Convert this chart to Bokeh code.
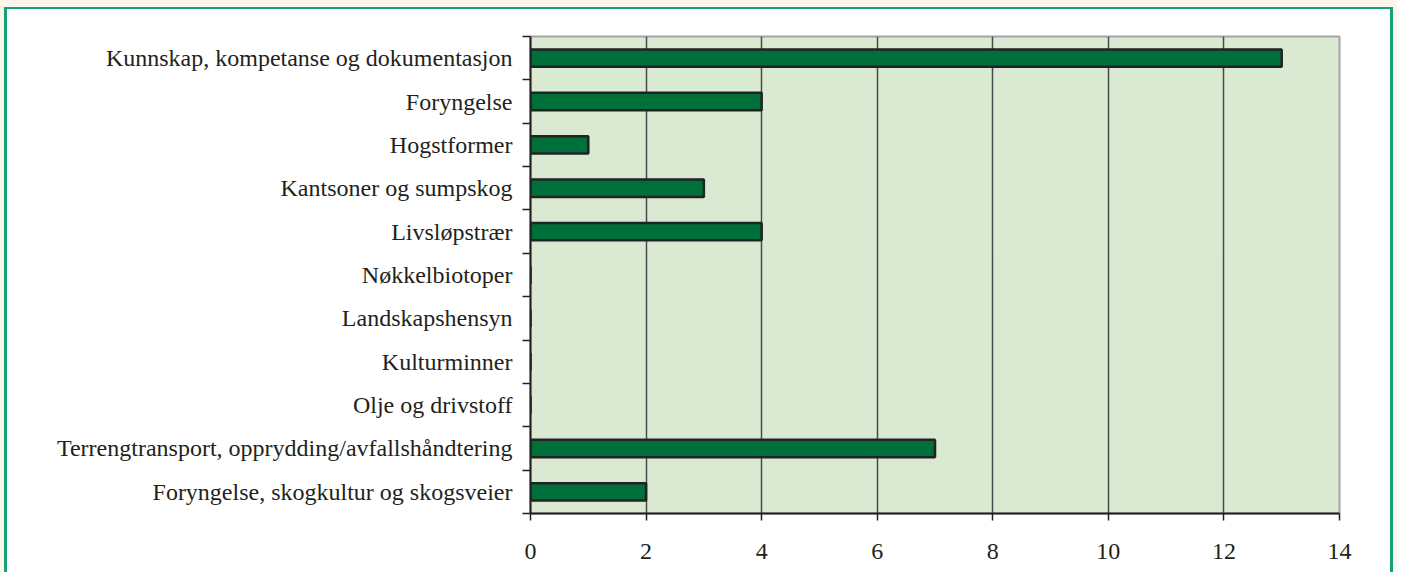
from bokeh.plotting import figure
from bokeh.models import Range1d, FixedTicker
from bokeh.embed import file_html
from bokeh.resources import INLINE

categories = [
    "Kunnskap, kompetanse og dokumentasjon",
    "Foryngelse",
    "Hogstformer",
    "Kantsoner og sumpskog",
    "Livsløpstrær",
    "Nøkkelbiotoper",
    "Landskapshensyn",
    "Kulturminner",
    "Olje og drivstoff",
    "Terrengtransport, opprydding/avfallshåndtering",
    "Foryngelse, skogkultur og skogsveier",
]
values = [13, 4, 1, 3, 4, 0, 0, 0, 0, 7, 2]
x_ticks = [0, 2, 4, 6, 8, 10, 12, 14]

n = len(categories)
centers = [i + 0.5 for i in range(n)]
bounds = list(range(n + 1))

FONT = "Liberation Serif"
TXT = "#231f20"

p = figure(
    width=1397, height=572,
    output_backend="svg", toolbar_location=None,
    x_range=Range1d(0, 14), y_range=Range1d(n, 0),
    min_border_left=523, min_border_right=65,
    min_border_top=27, min_border_bottom=68,
    background_fill_color="#d9e9d2", border_fill_color=None,
    outline_line_color="#a3a3a3", outline_line_width=2,
)
p.styles = {
    "border-style": "solid",
    "border-color": "#fcf5e9",
    "border-width": "7px 4px 0px 4px",
    "padding": "2px 3px 0px 3px",
    "background": "linear-gradient(#ffffff, #ffffff) content-box, #15a07e",
}

p.hbar(y=centers, right=values, left=0, height=0.4,
       fill_color="#00703a", line_color="#222222", line_width=2.5)

# x axis
p.xaxis.ticker = FixedTicker(ticks=x_ticks)
p.xaxis.axis_line_color = "#222222"
p.xaxis.axis_line_width = 2
p.xaxis.major_tick_line_color = "#222222"
p.xaxis.major_tick_line_width = 1.5
p.xaxis.major_tick_out = 7
p.xaxis.major_tick_in = 0
p.xaxis.minor_tick_line_color = None
p.xaxis.major_label_text_font = FONT
p.xaxis.major_label_text_font_size = "24px"
p.xaxis.major_label_text_color = TXT
p.xaxis.major_label_standoff = 23

# y axis: labels at centers, small ticks at boundaries
p.yaxis.ticker = FixedTicker(ticks=centers, minor_ticks=bounds)
p.yaxis.major_label_overrides = {c: lab for c, lab in zip(centers, categories)}
p.yaxis.axis_line_color = "#222222"
p.yaxis.axis_line_width = 2
p.yaxis.major_tick_line_color = None
p.yaxis.major_tick_out = 0
p.yaxis.major_tick_in = 0
p.yaxis.minor_tick_line_color = "#222222"
p.yaxis.minor_tick_line_width = 1.5
p.yaxis.minor_tick_out = 8
p.yaxis.minor_tick_in = 0
p.yaxis.major_label_text_font = FONT
p.yaxis.major_label_text_font_size = "24px"
p.yaxis.major_label_text_color = TXT
p.yaxis.major_label_standoff = 10

# grid
p.ygrid.grid_line_color = None
p.xgrid.ticker = FixedTicker(ticks=x_ticks[1:-1])
p.xgrid.grid_line_color = "#4a4a4a"
p.xgrid.grid_line_width = 1.5

open("out.html", "w").write(file_html(p, INLINE))
